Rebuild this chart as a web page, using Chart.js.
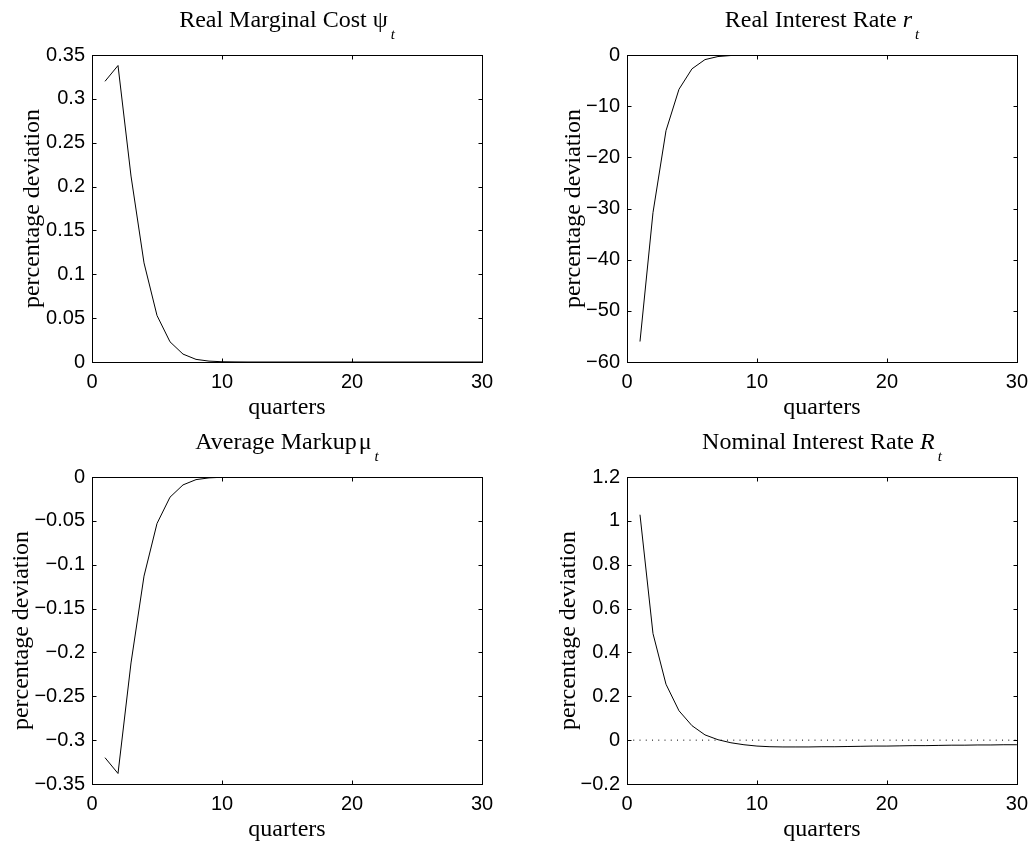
<!DOCTYPE html>
<html>
<head>
<meta charset="utf-8">
<script src="https://cdn.jsdelivr.net/npm/chart.js@4.4.1/dist/chart.umd.min.js"></script>
<style>
  html, body { margin: 0; padding: 0; background: #fff; }
  .panel { position: absolute; }
</style>
</head>
<body>
<div class="panel" style="left:0;top:0"><canvas id="c1" width="518" height="425"></canvas></div>
<div class="panel" style="left:518px;top:0"><canvas id="c2" width="518" height="425"></canvas></div>
<div class="panel" style="left:0;top:425px"><canvas id="c3" width="518" height="422"></canvas></div>
<div class="panel" style="left:518px;top:425px"><canvas id="c4" width="518" height="422"></canvas></div>
<script>
// quarters after the shock
const quarters = [1, 2, 3, 4, 5, 6, 7, 8, 9, 10, 11, 12, 13, 14, 15,
  16, 17, 18, 19, 20, 21, 22, 23, 24, 25, 26, 27, 28, 29, 30];

// real marginal cost psi_t
const marginalCost = [0.320, 0.338, 0.212, 0.113, 0.053, 0.023, 0.009, 0.003, 0.001, 0.0003,
  0.0001, 0, 0, 0, 0, 0, 0, 0, 0, 0, 0, 0, 0, 0, 0, 0, 0, 0, 0, 0];

// real interest rate r_t
const realRate = [-56, -30.8, -14.8, -6.7, -2.7, -0.9, -0.3, -0.1, -0.04, -0.015,
  -0.005, 0, 0, 0, 0, 0, 0, 0, 0, 0, 0, 0, 0, 0, 0, 0, 0, 0, 0, 0];

// average markup mu_t
const markup = [-0.320, -0.338, -0.212, -0.113, -0.053, -0.023, -0.009, -0.003, -0.001, -0.0003,
  -0.0001, 0, 0, 0, 0, 0, 0, 0, 0, 0, 0, 0, 0, 0, 0, 0, 0, 0, 0, 0];

// nominal interest rate R_t
const nominalRate = [1.028, 0.486, 0.255, 0.134, 0.066, 0.024, 0.002, -0.012, -0.021, -0.027,
  -0.030, -0.031, -0.031, -0.031, -0.030, -0.030, -0.029, -0.028, -0.027, -0.027,
  -0.026, -0.025, -0.025, -0.024, -0.023, -0.023, -0.022, -0.022, -0.021, -0.021];

// dotted steady-state line in the last panel
const zeroLineX = [0, 30];
const zeroLineY = [0, 0];

const SERIF = '"Liberation Serif", "Times New Roman", serif';
const SANS = '"Liberation Sans", Arial, sans-serif';

function fmtTick(v) {
  return String(parseFloat(Number(v).toFixed(4))).replace('-', '\u2212');
}

function toPoints(xs, ys) {
  return xs.map((x, i) => ({x: x, y: ys[i]}));
}

// matlab style box, inward ticks and a title with subscript
const frameAndTitle = {
  id: 'frameAndTitle',
  afterDraw(chart, args, opts) {
    const {ctx, chartArea: {left, right, top, bottom}, scales: {x, y}} = chart;
    const L = Math.round(left) + 0.5, R = Math.round(right) + 0.5;
    const T = Math.round(top) + 0.5, B = Math.round(bottom) + 0.5;
    ctx.save();
    ctx.strokeStyle = '#000';
    ctx.lineWidth = 1;
    ctx.strokeRect(L, T, R - L, B - T);
    ctx.beginPath();
    x.ticks.forEach(t => {
      const px = Math.round(x.getPixelForValue(t.value)) + 0.5;
      ctx.moveTo(px, B); ctx.lineTo(px, B - 4);
      ctx.moveTo(px, T); ctx.lineTo(px, T + 4);
    });
    y.ticks.forEach(t => {
      const py = Math.round(y.getPixelForValue(t.value)) + 0.5;
      ctx.moveTo(L, py); ctx.lineTo(L + 4, py);
      ctx.moveTo(R, py); ctx.lineTo(R - 4, py);
    });
    ctx.stroke();

    // title
    const parts = opts.parts || [];
    let total = 0;
    parts.forEach(p => {
      ctx.font = p.font;
      p.w = ctx.measureText(p.text).width;
      total += p.w + (p.dx || 0);
    });
    let cx = (left + right) / 2 - total / 2;
    const base = top - 28;
    ctx.fillStyle = '#000';
    ctx.textAlign = 'left';
    ctx.textBaseline = 'alphabetic';
    parts.forEach(p => {
      cx += p.dx || 0;
      ctx.font = p.font;
      ctx.fillText(p.text, cx, base + (p.sub ? 12 : 0));
      cx += p.w;
    });
    ctx.restore();
  }
};

const mainFont = '24px ' + SERIF;
const italicFont = 'italic 24px ' + SERIF;
const subFont = 'italic 15px ' + SERIF;

function makePanel(id, cfg) {
  const datasets = [];
  if (cfg.zeroLine) {
    datasets.push({
      data: toPoints(zeroLineX, zeroLineY),
      borderColor: '#000',
      borderWidth: 1,
      borderDash: [1, 5.25],
      pointRadius: 0,
      fill: false
    });
  }
  datasets.push({
    data: toPoints(quarters, cfg.values),
    borderColor: '#000',
    borderWidth: 1,
    pointRadius: 0,
    tension: 0,
    fill: false
  });

  return new Chart(document.getElementById(id), {
    type: 'line',
    data: {datasets: datasets},
    options: {
      animation: false,
      responsive: false,
      events: [],
      layout: {padding: {top: cfg.top, right: cfg.right, left: 0, bottom: 0}},
      plugins: {
        legend: {display: false},
        tooltip: {enabled: false},
        frameAndTitle: {parts: cfg.title}
      },
      scales: {
        x: {
          type: 'linear', min: 0, max: 30,
          afterFit: s => { s.height = 63; },
          grid: {display: false, drawTicks: false},
          border: {display: false},
          ticks: {
            stepSize: 10, padding: 8, color: '#000', maxRotation: 0, autoSkip: false,
            font: {family: SANS, size: 20}, callback: fmtTick
          },
          title: {
            display: true, text: 'quarters', color: '#000',
            font: {family: SERIF, size: 24, lineHeight: 1.2},
            padding: {top: 0, bottom: 2.6}
          }
        },
        y: {
          type: 'linear', min: cfg.min, max: cfg.max,
          afterFit: s => { s.width = cfg.yWidth; },
          grid: {display: false, drawTicks: false},
          border: {display: false},
          ticks: {
            stepSize: cfg.step, padding: 7, color: '#000', autoSkip: false,
            font: {family: SANS, size: 20}, callback: fmtTick
          },
          title: {
            display: true, text: 'percentage deviation', color: '#000',
            font: {family: SERIF, size: 24, lineHeight: 1.2},
            padding: {top: cfg.yTitlePad, bottom: 0}
          }
        }
      }
    },
    plugins: [frameAndTitle]
  });
}

makePanel('c1', {
  values: marginalCost, min: 0, max: 0.35, step: 0.05,
  top: 55, right: 36, yWidth: 92, yTitlePad: 18.6,
  title: [
    {text: 'Real Marginal Cost ', font: mainFont},
    {text: '\u03c8', font: mainFont},
    {text: 't', font: subFont, sub: true, dx: 3}
  ]
});

makePanel('c2', {
  values: realRate, min: -60, max: 0, step: 10,
  top: 55, right: 19, yWidth: 109, yTitlePad: 41,
  title: [
    {text: 'Real Interest Rate ', font: mainFont},
    {text: 'r', font: italicFont},
    {text: 't', font: subFont, sub: true, dx: 3}
  ]
});

makePanel('c3', {
  values: markup, min: -0.35, max: 0, step: 0.05,
  top: 52, right: 36, yWidth: 92, yTitlePad: 7.4,
  title: [
    {text: 'Average Markup', font: mainFont},
    {text: '\u03bc', font: mainFont, dx: 2},
    {text: 't', font: subFont, sub: true, dx: 3}
  ]
});

makePanel('c4', {
  values: nominalRate, min: -0.2, max: 1.2, step: 0.2, zeroLine: true,
  top: 52, right: 19, yWidth: 109, yTitlePad: 36.6,
  title: [
    {text: 'Nominal Interest Rate ', font: mainFont},
    {text: 'R', font: italicFont},
    {text: 't', font: subFont, sub: true, dx: 3}
  ]
});
</script>
</body>
</html>
